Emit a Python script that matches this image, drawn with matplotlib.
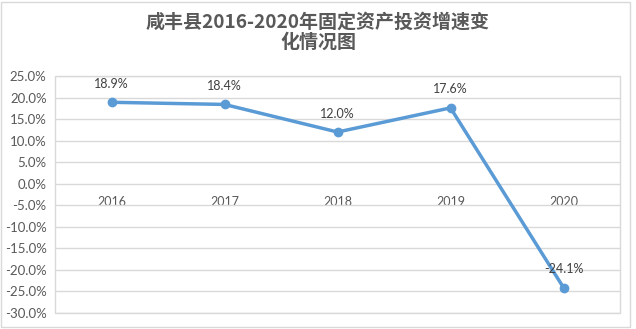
import matplotlib
matplotlib.use("Agg")
from matplotlib import pyplot as plt
from matplotlib.patches import Rectangle
from matplotlib.ticker import FuncFormatter, MultipleLocator

plt.rcParams['font.family'] = ['Lato', 'Noto Sans CJK SC', 'DejaVu Sans']

years = ['2016', '2017', '2018', '2019', '2020']
growth = [18.9, 18.4, 12.0, 17.6, -24.1]
title = '咸丰县2016-2020年固定资产投资增速变\n化情况图'

W, H = 636, 329
fig = plt.figure(figsize=(W / 100, H / 100), dpi=100)
ax = fig.add_axes([55 / W, 1 - 313 / H, 565 / W, 237 / H])

# outer chart border
fig.patches.append(Rectangle((1 / W, 2 / H), 629 / W, 325 / H, transform=fig.transFigure,
                             fill=False, edgecolor='#d9d9d9', linewidth=1))

x = list(range(len(years)))
ax.plot(x, growth, color='#5b9bd5', linewidth=2.5, marker='o', markersize=6, zorder=3)
for xi, v in zip(x, growth):
    ax.annotate(f'{v:.1f}%', (xi, v), xytext=(0, 9), textcoords='offset points',
                ha='center', va='bottom', fontsize=9, color='#404040')

ax.set_xlim(-0.5, len(years) - 0.5)
ax.set_ylim(-30, 25)
ax.yaxis.set_major_locator(MultipleLocator(5))
ax.yaxis.set_major_formatter(FuncFormatter(lambda v, p: f'{v:.1f}%'))
ax.grid(axis='y', color='#d9d9d9', linewidth=1)
ax.set_axisbelow(True)

# category axis sits on the zero line
ax.set_xticks(x)
ax.set_xticklabels(years)
ax.spines['bottom'].set_position(('data', 0))
for s in ax.spines.values():
    s.set_visible(False)
ax.add_patch(Rectangle((0, 0), 1, 1, transform=ax.transAxes, fill=False,
                       edgecolor='#d9d9d9', linewidth=1, clip_on=False))
ax.tick_params(axis='x', length=0, pad=9, labelsize=9, labelcolor='#595959')
ax.tick_params(axis='y', length=0, pad=6, labelsize=9.5, labelcolor='#595959')

fig.text(0.5, 1 - 32 / H, title, ha='center', va='center', fontsize=13.7,
         fontweight='bold', color='#595959', linespacing=1.1,
         family=['Noto Sans CJK SC', 'DejaVu Sans'])

fig.savefig('out.png', dpi=100)
